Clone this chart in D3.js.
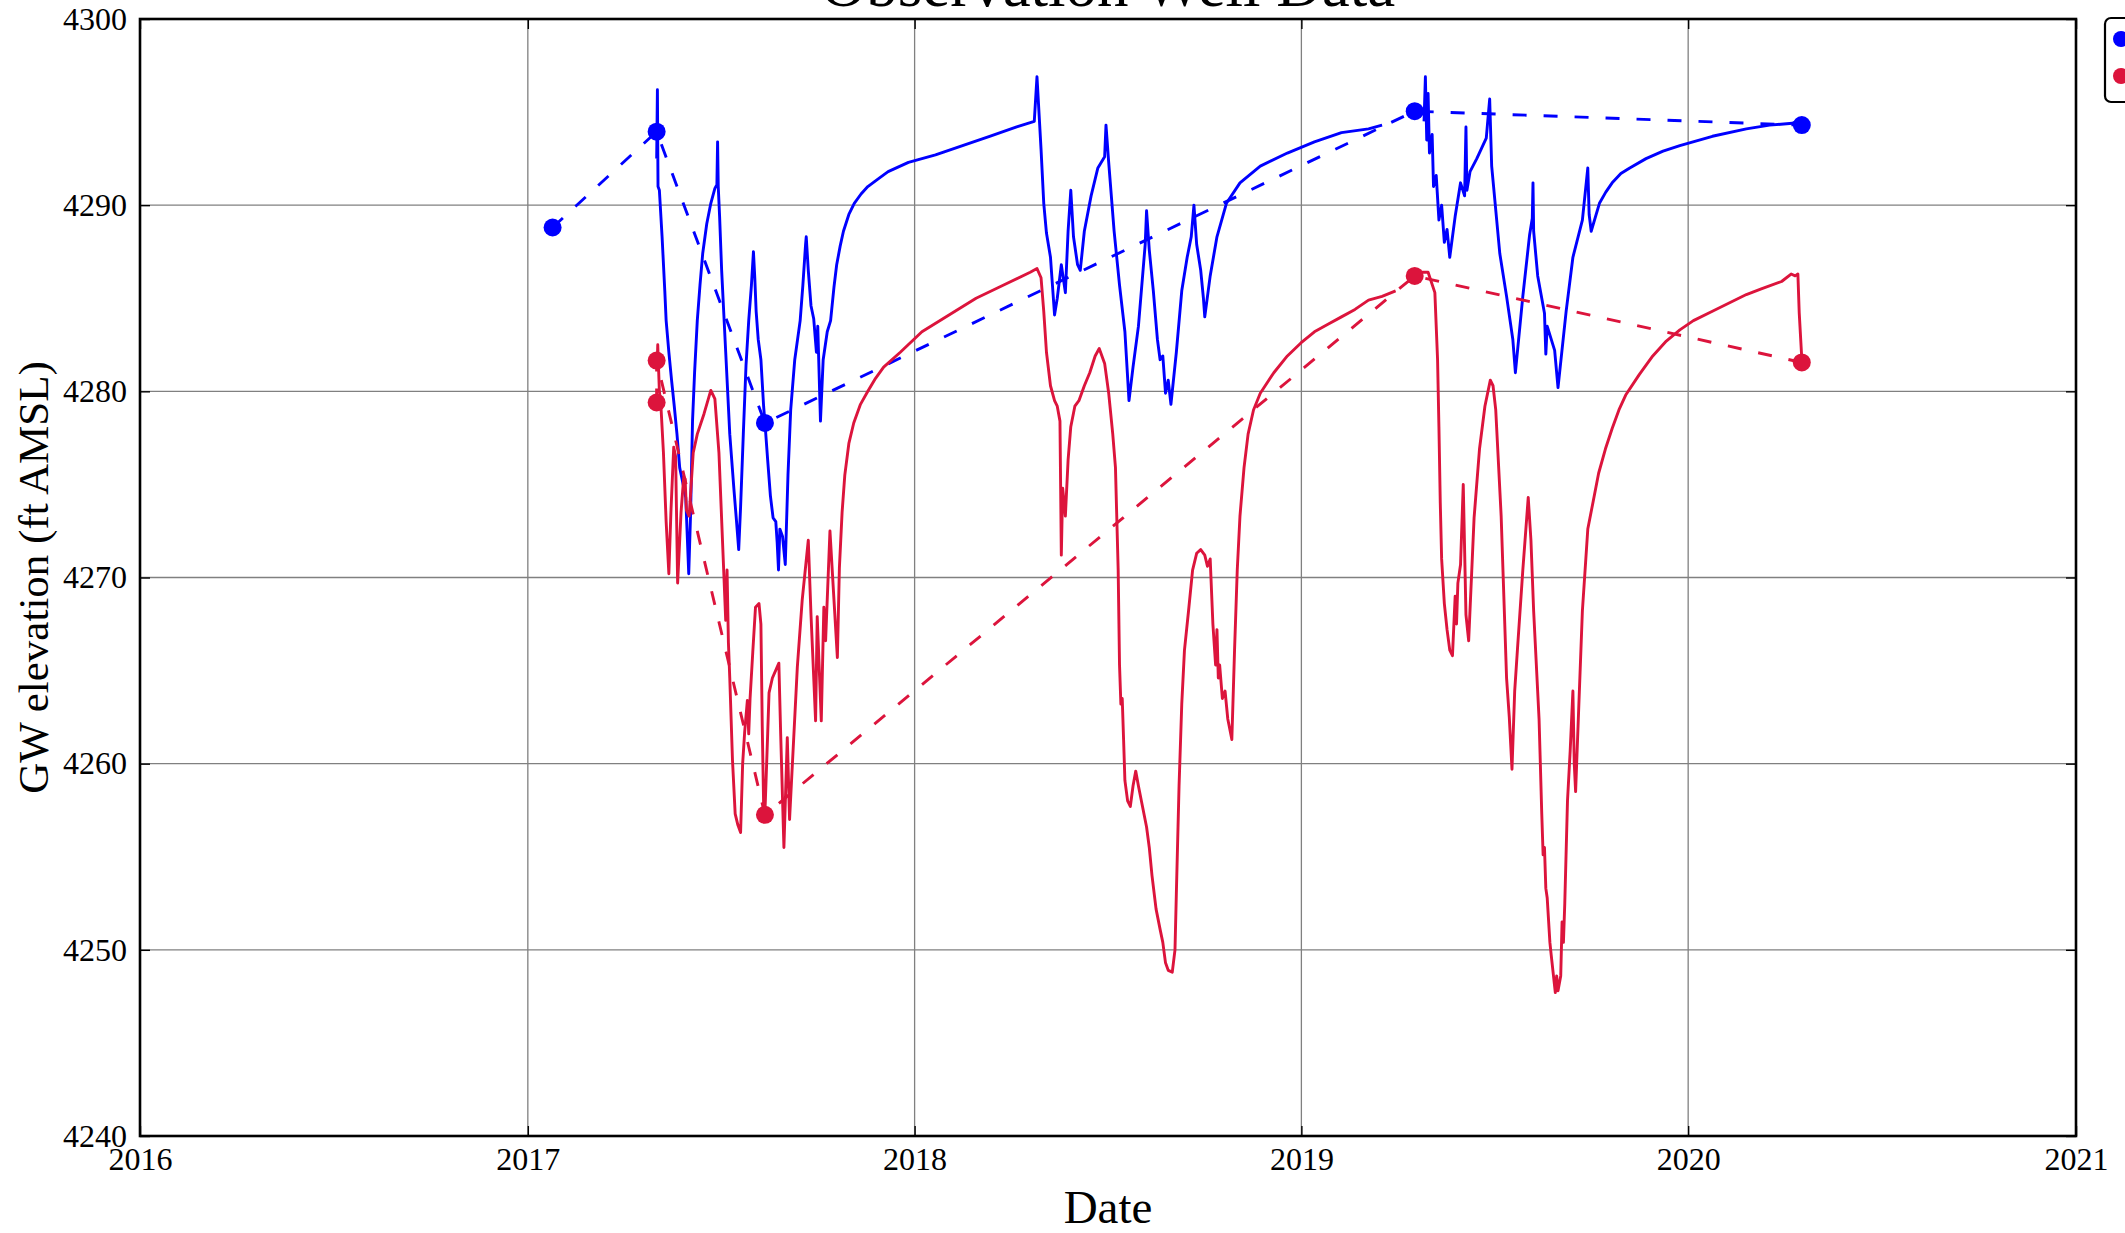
<!DOCTYPE html>
<html>
<head>
<meta charset="utf-8">
<script src="https://cdn.jsdelivr.net/npm/d3@7"></script>
<style>
  body { margin: 0; background: #fff; }
  svg { display: block; font-family: "Liberation Serif", "Times New Roman", serif; }
</style>
</head>
<body>
<div id="chart"></div>
<script>
// manual measurements (decimal year, ft AMSL)
const blueManualT = [2017.064, 2017.333, 2017.613, 2019.293, 2020.293]
const blueManualV = [4288.8, 4293.95, 4278.3, 4295.05, 4294.3]
const redManualT = [2017.333, 2017.333, 2017.613, 2019.293, 2020.293]
const redManualV = [4279.4, 4281.65, 4257.25, 4286.2, 4281.55]

// logger records, two deployments per well
const blueLoggerA = [
  [2017.3331, 4292.5], [2017.3350, 4296.2], [2017.3366, 4291.0], [2017.3401, 4290.8],
  [2017.3471, 4288.3], [2017.3541, 4285.4], [2017.3576, 4283.8], [2017.3646, 4282.1],
  [2017.3716, 4280.6], [2017.3786, 4279.2], [2017.3856, 4277.7], [2017.3926, 4275.9],
  [2017.3996, 4275.2], [2017.4083, 4274.3], [2017.4160, 4270.2], [2017.4206, 4273.3],
  [2017.4258, 4278.4], [2017.4311, 4281.0], [2017.4381, 4283.8], [2017.4451, 4285.7],
  [2017.4521, 4287.4], [2017.4626, 4289.0], [2017.4731, 4290.1], [2017.4836, 4290.9],
  [2017.4888, 4291.1], [2017.4906, 4293.4], [2017.4923, 4291.0], [2017.4958, 4289.4],
  [2017.5011, 4286.5], [2017.5116, 4282.1], [2017.5221, 4277.7], [2017.5326, 4274.8],
  [2017.5396, 4273.0], [2017.5452, 4271.5], [2017.5501, 4273.8], [2017.5571, 4277.7],
  [2017.5641, 4281.4], [2017.5711, 4283.8], [2017.5781, 4285.7], [2017.5833, 4287.5],
  [2017.5868, 4286.1], [2017.5903, 4284.3], [2017.5956, 4282.8], [2017.6026, 4281.7],
  [2017.6096, 4279.2], [2017.6131, 4278.3], [2017.6201, 4276.3], [2017.6271, 4274.4],
  [2017.6341, 4273.2], [2017.6411, 4273.0], [2017.6446, 4271.9], [2017.6481, 4270.4],
  [2017.6516, 4272.6], [2017.6586, 4272.2], [2017.6656, 4270.7], [2017.6726, 4275.5],
  [2017.6796, 4279.0], [2017.6901, 4281.7], [2017.7041, 4283.8], [2017.7111, 4285.7],
  [2017.7181, 4287.9], [2017.7198, 4288.3], [2017.7251, 4286.5], [2017.7321, 4284.6],
  [2017.7391, 4283.9], [2017.7461, 4282.1], [2017.7496, 4283.5], [2017.7566, 4278.4],
  [2017.7636, 4281.7], [2017.7741, 4283.2], [2017.7828, 4283.8], [2017.7915, 4285.6],
  [2017.7985, 4286.8], [2017.8075, 4287.8], [2017.8160, 4288.6], [2017.8300, 4289.5],
  [2017.8440, 4290.1], [2017.8615, 4290.6], [2017.8790, 4291.0], [2017.9050, 4291.4],
  [2017.9315, 4291.8], [2017.9840, 4292.3], [2018.0540, 4292.7], [2018.1239, 4293.2],
  [2018.1939, 4293.7], [2018.2639, 4294.2], [2018.3094, 4294.5], [2018.3164, 4296.9],
  [2018.3269, 4293.0], [2018.3339, 4290.1], [2018.3409, 4288.5], [2018.3513, 4287.2],
  [2018.3618, 4284.1], [2018.3688, 4285.0], [2018.3793, 4286.8], [2018.3898, 4285.3],
  [2018.3968, 4288.6], [2018.4038, 4290.8], [2018.4108, 4288.3], [2018.4213, 4286.8],
  [2018.4283, 4286.5], [2018.4388, 4288.6], [2018.4563, 4290.5], [2018.4738, 4292.0],
  [2018.4913, 4292.6], [2018.4948, 4294.3], [2018.5018, 4292.3], [2018.5158, 4288.6],
  [2018.5298, 4285.7], [2018.5437, 4283.2], [2018.5543, 4279.5], [2018.5647, 4281.3],
  [2018.5787, 4283.5], [2018.5962, 4287.9], [2018.5997, 4289.7], [2018.6067, 4287.6],
  [2018.6172, 4285.4], [2018.6277, 4282.8], [2018.6347, 4281.7], [2018.6417, 4281.9],
  [2018.6487, 4279.9], [2018.6557, 4280.6], [2018.6627, 4279.3], [2018.6767, 4282.1],
  [2018.6907, 4285.4], [2018.7047, 4287.2], [2018.7152, 4288.3], [2018.7222, 4290.0],
  [2018.7292, 4287.9], [2018.7397, 4286.5], [2018.7467, 4285.0], [2018.7502, 4284.0],
  [2018.7642, 4286.2], [2018.7817, 4288.3], [2018.8062, 4290.1], [2018.8412, 4291.2],
  [2018.8937, 4292.1], [2018.9637, 4292.8], [2019.0337, 4293.4], [2019.1036, 4293.9],
  [2019.1736, 4294.1], [2019.2086, 4294.3]
]
const blueLoggerB = [
  [2019.3171, 4294.5], [2019.3206, 4296.9], [2019.3241, 4293.5], [2019.3276, 4296.0],
  [2019.3311, 4292.8], [2019.3381, 4293.8], [2019.3416, 4291.0], [2019.3486, 4291.6],
  [2019.3556, 4289.2], [2019.3626, 4290.0], [2019.3696, 4288.0], [2019.3766, 4288.7],
  [2019.3836, 4287.2], [2019.3976, 4289.4], [2019.4115, 4291.2], [2019.4220, 4290.5],
  [2019.4255, 4294.2], [2019.4280, 4290.8], [2019.4360, 4291.8], [2019.4535, 4292.5],
  [2019.4780, 4293.6], [2019.4868, 4295.7], [2019.4920, 4292.1], [2019.5130, 4287.4],
  [2019.5305, 4285.1], [2019.5466, 4282.8], [2019.5533, 4281.0], [2019.5725, 4285.1],
  [2019.5900, 4288.4], [2019.5970, 4289.3], [2019.5988, 4291.2], [2019.6005, 4288.6],
  [2019.6110, 4286.2], [2019.6285, 4284.2], [2019.6320, 4282.0], [2019.6355, 4283.5],
  [2019.6548, 4282.2], [2019.6635, 4280.2], [2019.6845, 4284.3], [2019.7020, 4287.2],
  [2019.7265, 4289.2], [2019.7405, 4292.0], [2019.7440, 4289.5], [2019.7493, 4288.6],
  [2019.7706, 4290.1], [2019.7870, 4290.7], [2019.8035, 4291.2], [2019.8260, 4291.7],
  [2019.8490, 4292.0], [2019.8910, 4292.5], [2019.9350, 4292.9], [2019.9785, 4293.2],
  [2020.0625, 4293.7], [2020.1500, 4294.1], [2020.2100, 4294.3], [2020.2689, 4294.4],
  [2020.2794, 4294.5]
]
const redLoggerA = [
  [2017.3345, 4281.5], [2017.3359, 4282.5], [2017.3401, 4280.0], [2017.3436, 4279.4],
  [2017.3506, 4276.7], [2017.3576, 4273.0], [2017.3646, 4270.2], [2017.3699, 4273.5],
  [2017.3772, 4277.0], [2017.3821, 4276.5], [2017.3873, 4269.7], [2017.3961, 4273.5],
  [2017.4031, 4275.4], [2017.4066, 4275.3], [2017.4101, 4273.6], [2017.4171, 4273.3],
  [2017.4276, 4276.7], [2017.4381, 4277.7], [2017.4556, 4278.8], [2017.4731, 4280.05],
  [2017.4836, 4279.6], [2017.4941, 4276.7], [2017.5046, 4271.3], [2017.5116, 4267.7],
  [2017.5151, 4270.4], [2017.5186, 4266.5], [2017.5221, 4264.6], [2017.5291, 4260.2],
  [2017.5361, 4257.3], [2017.5431, 4256.7], [2017.5501, 4256.3], [2017.5554, 4260.0],
  [2017.5606, 4261.7], [2017.5676, 4263.4], [2017.5711, 4261.6], [2017.5746, 4263.5],
  [2017.5816, 4266.0], [2017.5886, 4268.4], [2017.5977, 4268.6], [2017.6026, 4267.5],
  [2017.6061, 4262.0], [2017.6096, 4257.8], [2017.6131, 4257.4], [2017.6201, 4261.6],
  [2017.6236, 4263.8], [2017.6323, 4264.6], [2017.6490, 4265.4], [2017.6537, 4261.6],
  [2017.6621, 4255.5], [2017.6708, 4261.4], [2017.6767, 4257.0], [2017.6968, 4265.2],
  [2017.7094, 4268.8], [2017.7251, 4272.0], [2017.7321, 4268.0], [2017.7440, 4262.3],
  [2017.7482, 4267.9], [2017.7587, 4262.3], [2017.7653, 4268.4], [2017.7699, 4266.6],
  [2017.7811, 4272.5], [2017.7915, 4268.8], [2017.8003, 4265.7], [2017.8055, 4270.5],
  [2017.8125, 4273.5], [2017.8195, 4275.5], [2017.8300, 4277.2], [2017.8426, 4278.3],
  [2017.8600, 4279.3], [2017.8790, 4280.0], [2017.8990, 4280.7], [2017.9199, 4281.3],
  [2017.9630, 4282.1], [2018.0189, 4283.2], [2018.0889, 4284.1], [2018.1589, 4285.0],
  [2018.2289, 4285.7], [2018.2989, 4286.4], [2018.3164, 4286.6], [2018.3269, 4286.1],
  [2018.3339, 4284.3], [2018.3409, 4282.1], [2018.3513, 4280.3], [2018.3618, 4279.5],
  [2018.3688, 4279.2], [2018.3758, 4278.4], [2018.3793, 4271.2], [2018.3828, 4274.8],
  [2018.3898, 4273.3], [2018.3968, 4276.3], [2018.4038, 4278.1], [2018.4143, 4279.2],
  [2018.4248, 4279.5], [2018.4388, 4280.3], [2018.4528, 4281.0], [2018.4668, 4281.9],
  [2018.4773, 4282.3], [2018.4913, 4281.5], [2018.5018, 4279.9], [2018.5123, 4277.7],
  [2018.5193, 4275.9], [2018.5263, 4270.4], [2018.5298, 4265.3], [2018.5333, 4263.2],
  [2018.5368, 4263.5], [2018.5403, 4261.3], [2018.5437, 4259.1], [2018.5507, 4258.0],
  [2018.5577, 4257.7], [2018.5647, 4258.8], [2018.5717, 4259.6], [2018.5787, 4258.8],
  [2018.5892, 4257.7], [2018.5997, 4256.6], [2018.6067, 4255.5], [2018.6137, 4254.0],
  [2018.6242, 4252.2], [2018.6347, 4251.1], [2018.6417, 4250.4], [2018.6487, 4249.3],
  [2018.6557, 4248.9], [2018.6662, 4248.8], [2018.6732, 4250.0], [2018.6767, 4253.0],
  [2018.6837, 4258.8], [2018.6907, 4263.2], [2018.6977, 4266.1], [2018.7082, 4268.2],
  [2018.7187, 4270.4], [2018.7292, 4271.3], [2018.7397, 4271.5], [2018.7502, 4271.2],
  [2018.7572, 4270.6], [2018.7642, 4271.0], [2018.7712, 4267.5], [2018.7782, 4265.3],
  [2018.7817, 4267.2], [2018.7852, 4264.6], [2018.7887, 4265.3], [2018.7957, 4263.5],
  [2018.8027, 4263.9], [2018.8097, 4262.4], [2018.8202, 4261.3], [2018.8272, 4266.1],
  [2018.8342, 4270.4], [2018.8412, 4273.3], [2018.8517, 4275.9], [2018.8622, 4277.7],
  [2018.8762, 4279.0], [2018.8937, 4279.9], [2018.9287, 4281.0], [2018.9637, 4281.9],
  [2018.9987, 4282.6], [2019.0337, 4283.2], [2019.0687, 4283.6], [2019.1036, 4284.0],
  [2019.1386, 4284.4], [2019.1736, 4284.9], [2019.2086, 4285.1], [2019.2436, 4285.4]
]
const redLoggerB = [
  [2019.2961, 4286.3], [2019.3066, 4286.4], [2019.3276, 4286.4], [2019.3451, 4285.3],
  [2019.3521, 4281.7], [2019.3556, 4278.1], [2019.3591, 4274.0], [2019.3626, 4271.0],
  [2019.3696, 4268.6], [2019.3766, 4267.2], [2019.3836, 4266.1], [2019.3906, 4265.8],
  [2019.3976, 4269.0], [2019.4011, 4267.5], [2019.4046, 4269.7], [2019.4115, 4270.7],
  [2019.4185, 4275.0], [2019.4255, 4268.0], [2019.4325, 4266.6], [2019.4465, 4273.2],
  [2019.4605, 4276.9], [2019.4745, 4279.2], [2019.4885, 4280.6], [2019.4955, 4280.3],
  [2019.5025, 4279.0], [2019.5165, 4273.3], [2019.5305, 4264.6], [2019.5375, 4262.5],
  [2019.5445, 4259.7], [2019.5515, 4263.9], [2019.5585, 4266.1], [2019.5725, 4270.4],
  [2019.5865, 4274.3], [2019.5935, 4272.0], [2019.6005, 4268.2], [2019.6145, 4262.4],
  [2019.6215, 4257.3], [2019.6250, 4255.1], [2019.6285, 4255.5], [2019.6320, 4253.3],
  [2019.6355, 4252.8], [2019.6425, 4250.4], [2019.6460, 4249.7], [2019.6565, 4247.7],
  [2019.6600, 4248.6], [2019.6635, 4247.8], [2019.6705, 4248.6], [2019.6740, 4251.5],
  [2019.6775, 4250.4], [2019.6810, 4252.5], [2019.6880, 4258.0], [2019.6950, 4260.7],
  [2019.7020, 4263.9], [2019.7055, 4260.0], [2019.7090, 4258.5], [2019.7160, 4262.4],
  [2019.7265, 4268.2], [2019.7405, 4272.6], [2019.7545, 4274.1], [2019.7685, 4275.6],
  [2019.7860, 4276.9], [2019.8035, 4278.0], [2019.8210, 4279.0], [2019.8385, 4279.8],
  [2019.8735, 4280.9], [2019.9085, 4281.9], [2019.9435, 4282.7], [2019.9785, 4283.3],
  [2020.0135, 4283.8], [2020.0625, 4284.3], [2020.1500, 4285.2], [2020.1885, 4285.5],
  [2020.2409, 4285.9], [2020.2654, 4286.3], [2020.2759, 4286.2], [2020.2829, 4286.3],
  [2020.2864, 4284.2], [2020.2934, 4281.6]
]

const yearTicks = [2016, 2017, 2018, 2019, 2020, 2021]
const elevTicks = [4240, 4250, 4260, 4270, 4280, 4290, 4300]

const BLUE = '#0000ff'
const RED = '#dc143c'

let W = 2125, H = 1233
let margin = {left: 140, top: 19, right: 2076, bottom: 1136}

function dec2date(t) {
  let yr = Math.floor(t)
  let a = Date.UTC(yr, 0, 1), b = Date.UTC(yr + 1, 0, 1)
  return new Date(a + (t - yr) * (b - a))
}

let svg = d3.select('#chart')
  .append('svg')
  .attr('width', W)
  .attr('height', H)
  .attr('xmlns', 'http://www.w3.org/2000/svg')

svg.append('rect')
  .attr('width', W)
  .attr('height', H)
  .attr('fill', '#fff')

let x = d3.scaleUtc()
  .domain([dec2date(yearTicks[0]), dec2date(yearTicks[yearTicks.length - 1])])
  .range([margin.left, margin.right])
let y = d3.scaleLinear()
  .domain([elevTicks[0], elevTicks[elevTicks.length - 1]])
  .range([margin.bottom, margin.top])

let xTickDates = yearTicks.map(dec2date)

svg.append('clipPath')
  .attr('id', 'plotclip')
  .append('rect')
  .attr('x', margin.left)
  .attr('y', margin.top)
  .attr('width', margin.right - margin.left)
  .attr('height', margin.bottom - margin.top)

// grid
let grid = svg.append('g').attr('stroke', '#808080').attr('stroke-width', 1.3)
grid.selectAll('line.gx')
  .data(xTickDates.slice(1, -1))
  .join('line')
  .attr('x1', d => x(d)).attr('x2', d => x(d))
  .attr('y1', margin.top).attr('y2', margin.bottom)
grid.selectAll('line.gy')
  .data(elevTicks.slice(1, -1))
  .join('line')
  .attr('x1', margin.left).attr('x2', margin.right)
  .attr('y1', d => y(d)).attr('y2', d => y(d))

let plot = svg.append('g').attr('clip-path', 'url(#plotclip)')

let line = d3.line()
  .x(d => x(dec2date(d[0])))
  .y(d => y(d[1]))

function drawSeries(color, loggers, manT, manV) {
  loggers.forEach(seg => {
    plot.append('path')
      .datum(seg)
      .attr('d', line)
      .attr('fill', 'none')
      .attr('stroke', color)
      .attr('stroke-width', 2.9)
      .attr('stroke-linejoin', 'round')
  })
  let man = d3.zip(manT, manV)
  plot.append('path')
    .datum(man)
    .attr('d', line)
    .attr('fill', 'none')
    .attr('stroke', color)
    .attr('stroke-width', 2.9)
    .attr('stroke-dasharray', '14,17')
  plot.selectAll(null)
    .data(man)
    .join('circle')
    .attr('cx', d => x(dec2date(d[0])))
    .attr('cy', d => y(d[1]))
    .attr('r', 9)
    .attr('fill', color)
}

drawSeries(BLUE, [blueLoggerA, blueLoggerB], blueManualT, blueManualV)
drawSeries(RED, [redLoggerA, redLoggerB], redManualT, redManualV)

// frame + inward ticks on all four sides
let fmt = d3.utcFormat('%Y')
svg.append('g')
  .attr('transform', `translate(0,${margin.bottom})`)
  .call(d3.axisBottom(x).tickValues(xTickDates).tickFormat(fmt).tickSizeInner(-10).tickSizeOuter(0).tickPadding(11))
svg.append('g')
  .attr('transform', `translate(0,${margin.top})`)
  .call(d3.axisTop(x).tickValues(xTickDates).tickFormat('').tickSizeInner(-10).tickSizeOuter(0))
svg.append('g')
  .attr('transform', `translate(${margin.left},0)`)
  .call(d3.axisLeft(y).tickValues(elevTicks).tickFormat(d3.format('d')).tickSizeInner(-10).tickSizeOuter(0).tickPadding(13))
svg.append('g')
  .attr('transform', `translate(${margin.right},0)`)
  .call(d3.axisRight(y).tickValues(elevTicks).tickFormat('').tickSizeInner(-10).tickSizeOuter(0))

svg.selectAll('.domain').remove()
svg.selectAll('.tick line').attr('stroke', '#000').attr('stroke-width', 1.4)
svg.selectAll('.tick text')
  .attr('fill', '#000')
  .style('font-family', '"Liberation Serif", "Times New Roman", serif')
  .style('font-size', '32px')

svg.append('rect')
  .attr('x', margin.left)
  .attr('y', margin.top)
  .attr('width', margin.right - margin.left)
  .attr('height', margin.bottom - margin.top)
  .attr('fill', 'none')
  .attr('stroke', '#000')
  .attr('stroke-width', 2.6)

// labels
svg.append('text')
  .attr('x', (margin.left + margin.right) / 2)
  .attr('y', 6)
  .attr('text-anchor', 'middle')
  .style('font-size', '63px')
  .text('Observation Well Data')

svg.append('text')
  .attr('x', (margin.left + margin.right) / 2)
  .attr('y', 1223)
  .attr('text-anchor', 'middle')
  .style('font-size', '47px')
  .text('Date')

svg.append('text')
  .attr('transform', `translate(48,${(margin.top + margin.bottom) / 2}) rotate(-90)`)
  .attr('text-anchor', 'middle')
  .style('font-size', '43px')
  .text('GW elevation (ft AMSL)')

// legend (clipped at the right edge of the figure)
let legend = svg.append('g')
legend.append('rect')
  .attr('x', 2105).attr('y', 18)
  .attr('width', 80).attr('height', 84)
  .attr('rx', 6)
  .attr('fill', '#fff')
  .attr('stroke', '#000')
  .attr('stroke-width', 2.2)
legend.selectAll('circle')
  .data([BLUE, RED])
  .join('circle')
  .attr('cx', 2121)
  .attr('cy', (d, i) => 39 + i * 37)
  .attr('r', 8)
  .attr('fill', d => d)
</script>
</body>
</html>
